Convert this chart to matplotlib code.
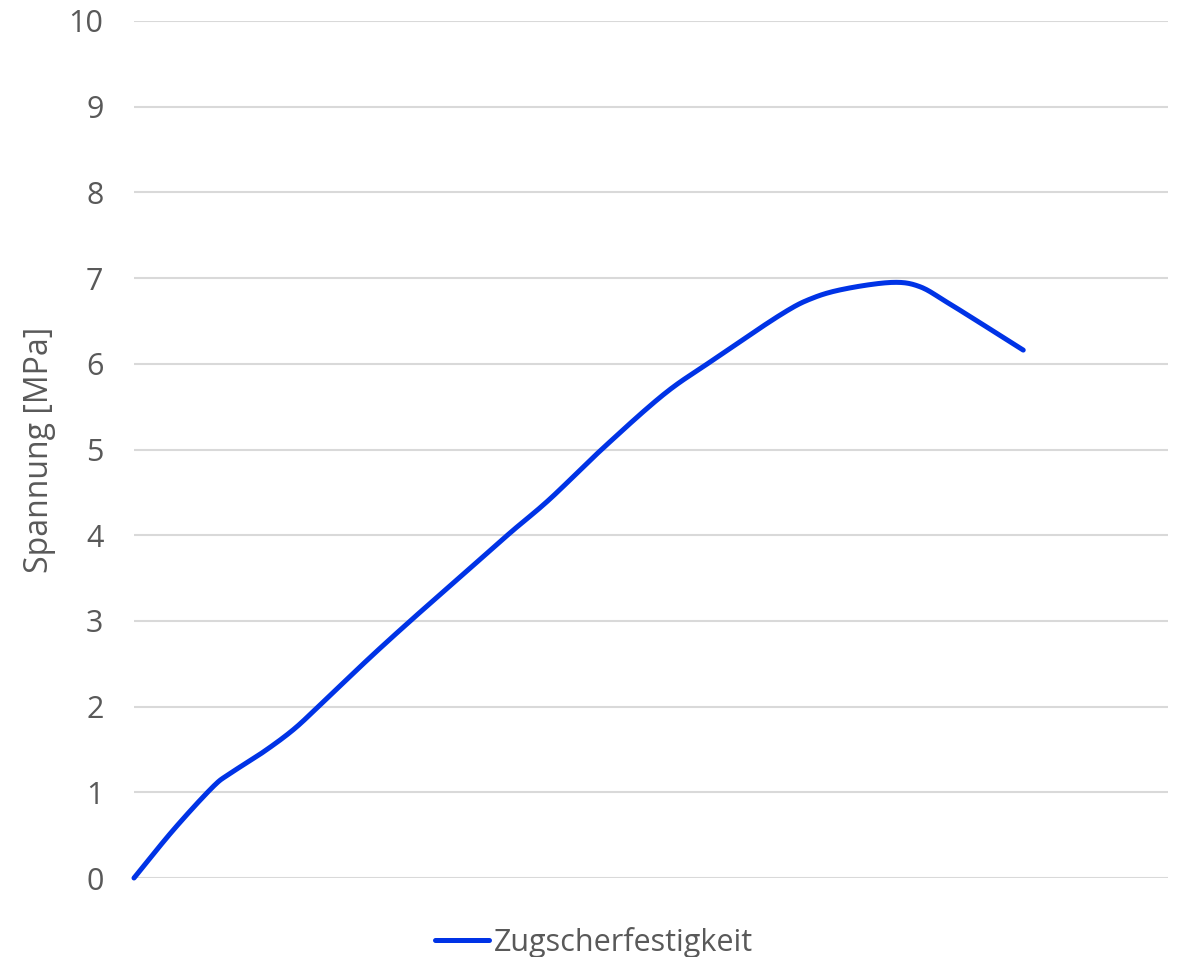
import numpy as np
import matplotlib.pyplot as plt
from matplotlib.lines import Line2D

plt.rcParams['font.family'] = ['Open Sans', 'DejaVu Sans']

# Traverse (arbitrary units, axis spans 0-10) and tensile shear stress in MPa
weg = [0.0, 0.38, 0.76, 0.93, 1.25, 1.54, 1.80, 2.28, 2.70, 3.18, 3.64,
       4.02, 4.54, 5.12, 5.57, 6.25, 6.57, 6.90, 7.34, 7.60, 7.86, 8.18, 8.60]
spannung = [0.0, 0.56, 1.06, 1.22, 1.47, 1.73, 2.02, 2.57, 3.03, 3.54, 4.03,
            4.42, 5.02, 5.64, 6.02, 6.57, 6.77, 6.88, 6.95, 6.90, 6.72, 6.48, 6.16]
y_ticks = list(range(0, 11))

text_color = '#595959'
grid_color = '#d9d9d9'
line_color = '#0033e6'
font_size = 22


def catmull_rom(x, y, n=20):
    """Smoothed polyline through the given points (Catmull-Rom spline)."""
    p = np.column_stack([x, y]).astype(float)
    p = np.vstack([p[0] - (p[1] - p[0]), p, p[-1] + (p[-1] - p[-2])])
    out = []
    t = np.linspace(0, 1, n, endpoint=False)[:, None]
    for i in range(1, len(p) - 2):
        p0, p1, p2, p3 = p[i - 1], p[i], p[i + 1], p[i + 2]
        seg = 0.5 * ((2 * p1) + (-p0 + p2) * t + (2 * p0 - 5 * p1 + 4 * p2 - p3) * t ** 2
                     + (-p0 + 3 * p1 - 3 * p2 + p3) * t ** 3)
        out.append(seg)
    out.append(p[-2][None, :])
    out = np.vstack(out)
    return out[:, 0], out[:, 1]


fig = plt.figure(figsize=(11.78, 9.57), dpi=100)
ax = fig.add_axes([134 / 1178, 1 - 878 / 957, (1168 - 134) / 1178, (878 - 21) / 957])

sx, sy = catmull_rom(weg, spannung)
ax.plot(sx, sy, color=line_color, linewidth=3.6, solid_capstyle='round',
        solid_joinstyle='round', zorder=3, clip_on=False)

ax.set_xlim(0, 10)
ax.set_ylim(0, 10)
ax.set_yticks(y_ticks)
ax.set_xticks([])
ax.grid(axis='y', color=grid_color, linewidth=1.5)
ax.set_axisbelow(True)
for s in ax.spines.values():
    s.set_visible(False)
ax.tick_params(axis='y', length=0, pad=22, labelsize=font_size, labelcolor=text_color)
ax.set_ylabel('Spannung [MPa]', fontsize=23, color=text_color)
ax.yaxis.set_label_coords(-0.091, 0.5)
ax.yaxis.label.set_verticalalignment('center')

handle = Line2D([], [], color=line_color, linewidth=3.6, solid_capstyle='round')
ax.legend([handle], ['Zugscherfestigkeit'], loc='center',
          bbox_to_anchor=(0.445, -0.075), frameon=False, fontsize=font_size,
          labelcolor=text_color, handlelength=1.75, handletextpad=0.16,
          borderpad=0, borderaxespad=0)

fig.savefig('out.png', dpi=100)
